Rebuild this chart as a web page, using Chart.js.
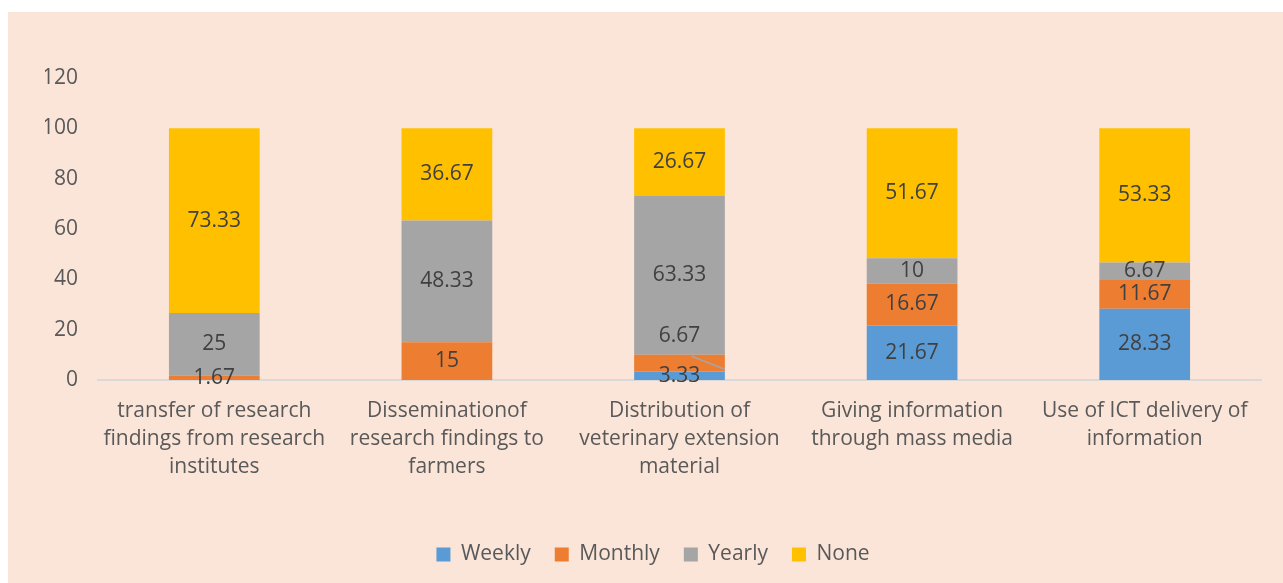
<!DOCTYPE html>
<html>
<head>
<meta charset="utf-8">
<script src="https://cdn.jsdelivr.net/npm/chart.js@4.4.1/dist/chart.umd.min.js"></script>
<style>
  body { margin: 0; background: #ffffff; }
  #panel {
    position: absolute;
    left: 8px;
    top: 12px;
    width: 1275px;
    height: 571px;
    background: #fae5d8;
  }
</style>
</head>
<body>
<div id="panel">
  <canvas id="chart-output"></canvas>
</div>
<script>
// categories (multi line labels like in the original)
const categories = [
  ["transfer of research", "findings from research", "institutes"],
  ["Disseminationof", "research findings to", "farmers"],
  ["Distribution of", "veterinary extension", "material"],
  ["Giving information", "through mass media"],
  ["Use of ICT delivery of", "information"],
];

// series values (percent)
const weekly = [0, 0, 3.33, 21.67, 28.33];
const monthly = [1.67, 15, 6.67, 16.67, 11.67];
const yearly = [25, 48.33, 63.33, 10, 6.67];
const none = [73.33, 36.67, 26.67, 51.67, 53.33];

// y axis ticks
const yTicks = [0, 20, 40, 60, 80, 100, 120];

const FONT = "'Open Sans', 'Liberation Sans', sans-serif";

// small plugin to write the value in the middle of every segment
// (no datalabels plugin available offline)
const valueLabels = {
  id: "valueLabels",
  afterDatasetsDraw(chart, args, opts) {
    const ctx = chart.ctx;
    ctx.save();
    ctx.font = `21px ${FONT}`;
    ctx.fillStyle = "#404040";
    ctx.textAlign = "center";
    ctx.textBaseline = "middle";
    chart.data.datasets.forEach((ds, di) => {
      const meta = chart.getDatasetMeta(di);
      meta.data.forEach((bar, i) => {
        const v = ds.data[i];
        if (!v) return;
        let y = (bar.y + bar.base) / 2;
        const shift = (opts.shifts || []).find((s) => s.ds === di && s.idx === i);
        if (shift) {
          // label pushed up, with a small leader line back to the segment
          const ly = y + shift.dy;
          ctx.strokeStyle = "#a6a6a6";
          ctx.lineWidth = 1.5;
          ctx.beginPath();
          ctx.moveTo(bar.x + 12, ly + 20);
          ctx.lineTo(bar.x + bar.width / 2, y + 6);
          ctx.stroke();
          y = ly;
        }
        ctx.fillText(String(v), bar.x, y);
      });
    });
    ctx.restore();
  },
};

const ctx = document.querySelector("#chart-output").getContext("2d");

const data = {
  labels: categories,
  datasets: [
    { label: "Weekly", data: weekly, backgroundColor: "#5b9bd5" },
    { label: "Monthly", data: monthly, backgroundColor: "#ed7d31" },
    { label: "Yearly", data: yearly, backgroundColor: "#a5a5a5" },
    { label: "None", data: none, backgroundColor: "#ffc000" },
  ],
};

const config = {
  type: "bar",
  data: data,
  options: {
    responsive: true,
    maintainAspectRatio: false,
    animation: false,
    datasets: {
      bar: { categoryPercentage: 0.78, barPercentage: 0.5, borderWidth: 0 },
    },
    // left padding keeps the legend centred where the original has it
    layout: { padding: { top: 66, right: 22, bottom: 8, left: 37 } },
    scales: {
      x: {
        stacked: true,
        grid: { display: false, drawTicks: false },
        border: { display: true, color: "#d9d9d9", width: 2 },
        ticks: {
          color: "#595959",
          padding: 17,
          maxRotation: 0,
          autoSkip: false,
          font: { family: FONT, size: 21, lineHeight: 1.33 },
        },
        afterFit: (scale) => {
          scale.height = 140;
        },
      },
      y: {
        stacked: true,
        min: 0,
        max: 120,
        grid: { display: false, drawTicks: false },
        border: { display: false },
        afterBuildTicks: (scale) => {
          scale.ticks = yTicks.map((v) => ({ value: v }));
        },
        ticks: {
          color: "#595959",
          padding: 20,
          font: { family: FONT, size: 21 },
        },
        afterFit: (scale) => {
          scale.width = 53;
        },
      },
    },
    plugins: {
      legend: {
        position: "bottom",
        labels: {
          boxWidth: 14,
          boxHeight: 14,
          padding: 24,
          color: "#595959",
          font: { family: FONT, size: 21 },
        },
      },
      tooltip: { enabled: false },
      valueLabels: { shifts: [{ ds: 1, idx: 2, dy: -27 }] },
    },
  },
  plugins: [valueLabels],
};

new Chart(ctx, config);
</script>
</body>
</html>
